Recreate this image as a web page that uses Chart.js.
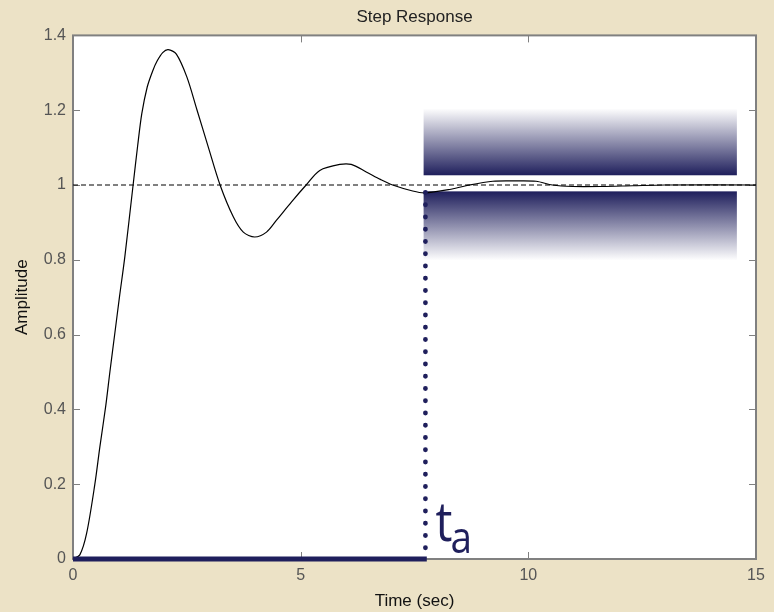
<!DOCTYPE html>
<html><head><meta charset="utf-8">
<script src="https://cdn.jsdelivr.net/npm/chart.js@4.4.0/dist/chart.umd.min.js"></script>
<style>html,body{margin:0;padding:0;background:#ECE2C6;}canvas{display:block;}</style>
</head><body>
<canvas id="c" width="774" height="612"></canvas>
<script>
// ---- data ----
const timeSec   = [0, 0.15, 0.30, 0.48, 0.59, 0.72, 0.81, 0.92, 1.02, 1.14, 1.32, 1.42, 1.51, 1.63, 1.75, 1.85, 1.97, 2.09, 2.27, 2.50, 2.72, 2.97, 3.23, 3.52, 3.74, 3.99, 4.25, 4.47, 4.80, 5.12, 5.42, 5.86, 6.11, 6.44, 6.75, 7.02, 7.46, 7.72, 8.27, 8.63, 9.22, 9.70, 10.17, 10.53, 10.97, 11.60, 12.29, 13.0, 15.0];
const amplitude = [0, 0.011, 0.069, 0.200, 0.300, 0.410, 0.500, 0.605, 0.700, 0.810, 1.000, 1.105, 1.190, 1.262, 1.305, 1.332, 1.354, 1.362, 1.350, 1.289, 1.202, 1.102, 1.000, 0.915, 0.874, 0.861, 0.874, 0.906, 0.955, 1.000, 1.039, 1.055, 1.055, 1.035, 1.015, 1.000, 0.984, 0.979, 0.988, 0.998, 1.010, 1.011, 1.010, 1.000, 0.996, 0.996, 0.998, 1.000, 1.000];
const steadyState   = 1;
const settlingTime  = 7.74;
const settleTopAmp  = 0.98;
const bandStartSec  = 7.70;
const bandEndSec    = 14.58;
const upperBand     = [1.026, 1.205];
const lowerBand     = [0.798, 0.983];
const xTicks = [0, 5, 10, 15];
const yTicks = [0, 0.2, 0.4, 0.6, 0.8, 1, 1.2, 1.4];
const xRange = [0, 15];
const yRange = [0, 1.4];
const chartTitle = 'Step Response';
const xTitle = 'Time (sec)';
const yTitle = 'Amplitude';
const markerLabelMain = 't';
const markerLabelSub = 'a';

// ---- styles ----
const BEIGE = '#ECE2C6';
const NAVY = '#1f1f5c';
const AXIS = '#808080';
const FONT = "'Liberation Sans', Arial, sans-serif";

const curvePts = timeSec.map((t, i) => ({x: t, y: amplitude[i]}));

const decor = {
  id: 'decor',
  beforeDraw(chart) {
    const {ctx, chartArea: a} = chart;
    ctx.save();
    ctx.fillStyle = BEIGE;
    ctx.fillRect(0, 0, chart.width, chart.height);
    ctx.fillStyle = '#ffffff';
    ctx.fillRect(a.left, a.top, a.right - a.left, a.bottom - a.top);
    ctx.restore();
  },
  beforeDatasetsDraw(chart) {
    const {ctx, chartArea: a, scales: {x, y}} = chart;
    ctx.save();
    const x0 = x.getPixelForValue(bandStartSec), x1 = x.getPixelForValue(bandEndSec);
    let yT = y.getPixelForValue(upperBand[1]), yB = y.getPixelForValue(upperBand[0]);
    let g = ctx.createLinearGradient(0, yT, 0, yB);
    g.addColorStop(0, 'rgba(31,31,92,0)');
    g.addColorStop(1, 'rgba(31,31,92,1)');
    ctx.fillStyle = g;
    ctx.fillRect(x0, yT, x1 - x0, yB - yT);
    yT = y.getPixelForValue(lowerBand[1]); yB = y.getPixelForValue(lowerBand[0]);
    g = ctx.createLinearGradient(0, yT, 0, yB);
    g.addColorStop(0, 'rgba(31,31,92,1)');
    g.addColorStop(1, 'rgba(31,31,92,0)');
    ctx.fillStyle = g;
    ctx.fillRect(x0, yT, x1 - x0, yB - yT);
    ctx.strokeStyle = AXIS;
    ctx.lineWidth = 2;
    ctx.strokeRect(a.left, a.top, a.right - a.left, a.bottom - a.top);
    ctx.lineWidth = 1;
    const TL = 7;
    ctx.beginPath();
    yTicks.forEach(v => {
      const py = Math.round(y.getPixelForValue(v)) + 0.5;
      ctx.moveTo(a.left, py); ctx.lineTo(a.left + TL, py);
      ctx.moveTo(a.right, py); ctx.lineTo(a.right - TL, py);
    });
    xTicks.forEach(v => {
      const px = Math.round(x.getPixelForValue(v)) + 0.5;
      ctx.moveTo(px, a.bottom); ctx.lineTo(px, a.bottom - TL);
      ctx.moveTo(px, a.top); ctx.lineTo(px, a.top + TL);
    });
    ctx.stroke();
    ctx.restore();
  },
  afterDatasetsDraw(chart) {
    const {ctx, scales: {x, y}} = chart;
    const px = x.getPixelForValue(settlingTime);
    const py = y.getPixelForValue(0);
    ctx.save();
    ctx.fillStyle = NAVY;
    ctx.textBaseline = 'alphabetic';
    ctx.textAlign = 'left';
    ctx.translate(px + 10, py - 18);
    ctx.scale(0.88, 1);
    ctx.font = "54px 'Open Sans', sans-serif";
    ctx.fillText(markerLabelMain, 0, 0);
    ctx.font = "44px 'Open Sans', sans-serif";
    ctx.fillText(markerLabelSub, 17, 12);
    ctx.restore();
  }
};

new Chart(document.getElementById('c'), {
  type: 'scatter',
  data: {
    datasets: [
      { label: 'bar', data: [{x: 0, y: 0}, {x: settlingTime + 0.03, y: 0}], showLine: true,
        borderColor: NAVY, borderWidth: 5, borderCapStyle: 'butt', pointRadius: 0, clip: false, order: 0 },
      { label: 'dots', data: [{x: settlingTime, y: settleTopAmp}, {x: settlingTime, y: 0}], showLine: true,
        borderColor: NAVY, borderWidth: 4.8, borderDash: [0, 12.25], borderCapStyle: 'round', pointRadius: 0, clip: false, order: 1 },
      { label: 'response', data: curvePts, showLine: true, borderColor: '#000', borderWidth: 1.2,
        cubicInterpolationMode: 'default', tension: 0.3, pointRadius: 0, clip: false, order: 2 },
      { label: 'steady', data: [{x: xRange[0], y: steadyState}, {x: xRange[1], y: steadyState}], showLine: true,
        borderColor: '#000', borderWidth: 1, borderDash: [5, 3], pointRadius: 0, clip: false, order: 3 }
    ]
  },
  options: {
    responsive: false,
    animation: false,
    devicePixelRatio: 1,
    layout: { padding: { left: 0, right: 18, top: 0, bottom: 0 } },
    plugins: {
      legend: { display: false },
      tooltip: { enabled: false },
      title: { display: true, text: chartTitle, fullSize: false, color: '#222',
               font: { family: FONT, size: 17, weight: 'normal' }, padding: { top: 7, bottom: 8 } }
    },
    scales: {
      x: {
        type: 'linear', min: xRange[0], max: xRange[1],
        afterBuildTicks: s => { s.ticks = xTicks.map(v => ({value: v})); },
        afterFit: s => { s.height = 53; },
        grid: { display: false, drawTicks: false }, border: { display: false },
        ticks: { color: '#555', font: { family: FONT, size: 16 }, padding: 7, maxRotation: 0,
                 callback: v => String(v) },
        title: { display: true, text: xTitle, color: '#111', font: { family: FONT, size: 17 }, padding: { top: 0, bottom: 0 } }
      },
      y: {
        type: 'linear', min: yRange[0], max: yRange[1],
        afterBuildTicks: s => { s.ticks = yTicks.map(v => ({value: v})); },
        afterFit: s => { s.width = 73; },
        grid: { display: false, drawTicks: false }, border: { display: false },
        ticks: { color: '#555', font: { family: FONT, size: 16 }, padding: 7,
                 callback: v => String(Math.round(v * 10) / 10) },
        title: { display: true, text: yTitle, color: '#111', font: { family: FONT, size: 17 }, padding: { top: 12, bottom: 0 } }
      }
    }
  },
  plugins: [decor]
});
</script>
</body></html>
